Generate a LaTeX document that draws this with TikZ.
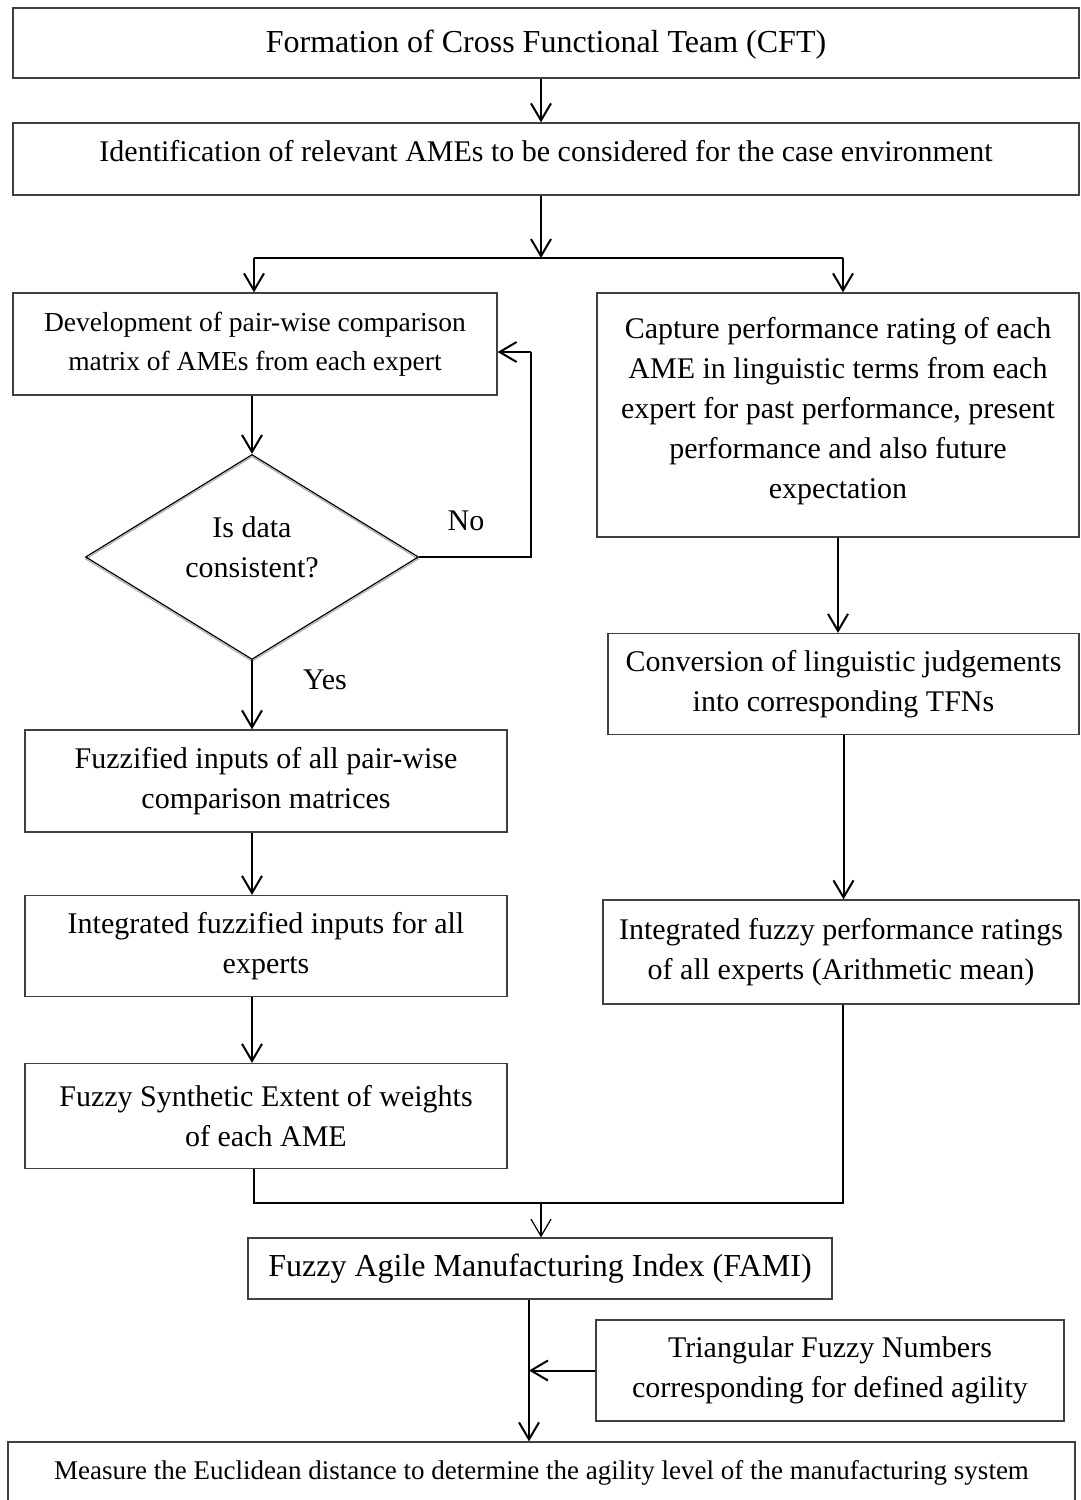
\documentclass[tikz,border=0pt]{standalone}
\usepackage{fontspec}
\setmainfont{Liberation Serif}
\usetikzlibrary{arrows.meta,shapes.geometric}

\begin{document}
\begin{tikzpicture}[x=1pt,y=-1pt,
  box/.style={draw=black!75, line width=1.3pt, rectangle, inner sep=0pt,
    align=center, font=\fontsize{30}{40}\selectfont},
  bigbox/.style={box, font=\fontsize{32}{40}\selectfont},
  smallbox/.style={box, font=\fontsize{27.5}{39}\selectfont},
  flow/.style={line width=2pt, -{Straight Barb[length=17pt,width=20pt,line width=2pt]}},
  thinflow/.style={line width=1.2pt, -{Straight Barb[length=17pt,width=20pt,line width=1.2pt]}},
  link/.style={line width=2pt},
  lbl/.style={font=\fontsize{30}{40}\selectfont, inner sep=0pt}]
\useasboundingbox (0,0) rectangle (1080,1500);

% main column boxes
\node[bigbox, minimum width=1066pt, minimum height=70pt, text depth=4pt] (cft) at (546,43)
  {Formation of Cross Functional Team (CFT)};
\node[box, minimum width=1066pt, minimum height=72pt, text depth=16pt] (ident) at (546,159)
  {Identification of relevant AMEs to be considered for the case environment};

% left branch
\node[smallbox, minimum width=484pt, minimum height=102pt] (pair) at (255,344)
  {Development of pair-wise comparison\\matrix of AMEs from each expert};
\node[draw=black!35, line width=1pt, diamond, aspect=1.62, minimum width=333pt,
  minimum height=205pt, inner sep=0pt] (diashade) at (252,559) {};
\node[draw=black, line width=1.2pt, diamond, aspect=1.62, minimum width=333pt,
  minimum height=205pt, inner sep=0pt, align=center, text depth=19pt,
  font=\fontsize{30}{40}\selectfont] (dia) at (252,557) {Is data\\consistent?};
\node[box, minimum width=482pt, minimum height=102pt] (fuzz) at (266,781)
  {Fuzzified inputs of all pair-wise\\comparison matrices};
\node[box, minimum width=482pt, minimum height=101pt] (integ) at (266,946)
  {Integrated fuzzified inputs for all\\experts};
\node[box, minimum width=482pt, minimum height=105pt] (synth) at (266,1116)
  {Fuzzy Synthetic Extent of weights\\of each AME};

% right branch
\node[box, minimum width=482pt, minimum height=244pt, text depth=14pt] (capture) at (838,415)
  {Capture performance rating of each\\AME in linguistic terms from each\\expert for past performance, present\\performance and also future\\expectation};
\node[box, minimum width=471pt, minimum height=101pt] (conv) at (843.5,684)
  {Conversion of linguistic judgements\\into corresponding TFNs};
\node[box, minimum width=476pt, minimum height=104pt] (perf) at (841,952)
  {Integrated fuzzy performance ratings\\of all experts (Arithmetic mean)};

% bottom part
\node[bigbox, minimum width=584pt, minimum height=61pt] (fami) at (540,1268.5)
  {Fuzzy Agile Manufacturing Index (FAMI)};
\node[box, minimum width=468pt, minimum height=101pt] (tfn) at (830,1370.5)
  {Triangular Fuzzy Numbers\\corresponding for defined agility};
\node[smallbox, font=\fontsize{27}{39}\selectfont, minimum width=1067pt,
  minimum height=62pt] (eucl) at (541.5,1473)
  {Measure the Euclidean distance to determine the agility level of the manufacturing system};

% labels
\node[lbl] (nolbl) at (466,521) {No};
\node[lbl] (yeslbl) at (325,680) {Yes};

% helper coordinates
\coordinate (spine) at (541,0);
\coordinate (split) at (541,258);
\coordinate (splitL) at (254,258);
\coordinate (splitR) at (843,258);
\coordinate (loop) at (531,352);
\coordinate (merge) at (541,1203);
\coordinate (mergeL) at (254,1203);
\coordinate (mergeR) at (843,1203);
\coordinate (lower) at (529,1300);

% connectors
\draw[flow] (cft.south -| spine) -- (ident.north -| spine);
\draw[flow] (ident.south -| spine) -- (split);
\draw[link] (splitL) -- (splitR);
\draw[flow] (splitL) -- (splitL |- pair.north);
\draw[flow] (splitR) -- (splitR |- capture.north);

\draw[flow] (pair.south -| dia.north) -- (dia.north);
\draw[link] (dia.east) -| (loop);
\draw[flow] (loop) -- (loop -| pair.east);
\draw[flow] (dia.south) -- (dia.south |- fuzz.north);
\draw[flow] (fuzz.south -| dia.south) -- (integ.north -| dia.south);
\draw[flow] (integ.south -| dia.south) -- (synth.north -| dia.south);

\draw[flow] (capture.south) -- (capture.south |- conv.north);
\draw[flow] (conv.south) -- (conv.south |- perf.north);

\draw[link] (synth.south -| mergeL) -- (mergeL) -- (mergeR) -- (perf.south -| mergeR);
\draw[thinflow] (merge) -- (merge |- fami.north);

\draw[flow] (fami.south -| lower) -- (eucl.north -| lower);
\draw[flow] (tfn.west) -- (tfn.west -| lower);
\end{tikzpicture}
\end{document}
